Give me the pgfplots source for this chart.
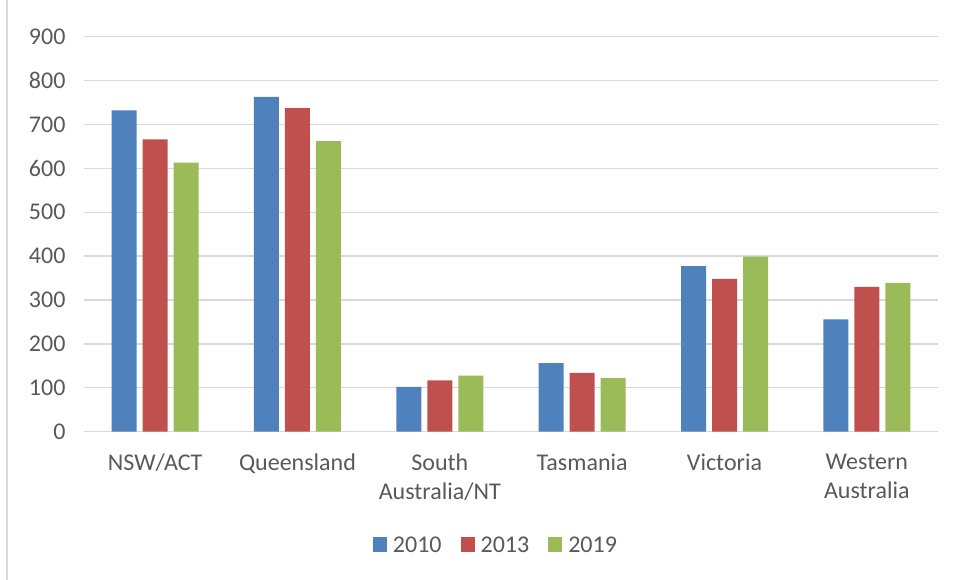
\documentclass[border=0pt]{standalone}
\usepackage{pgfplots}
\pgfplotsset{compat=1.18}
\usepackage{fontspec}
\setmainfont{Carlito}
\definecolor{cblue}{HTML}{4F81BD}
\definecolor{cred}{HTML}{C0504D}
\definecolor{cgreen}{HTML}{9BBB59}
\definecolor{cgrid}{HTML}{D9D9D9}
\definecolor{ctext}{HTML}{595959}
\begin{document}
\begin{tikzpicture}
\useasboundingbox (-84pt,-148.3pt) rectangle (875pt,431.7pt);
\draw[cgrid,line width=1.2pt] (-77pt,-148.3pt) -- (-77pt,431.7pt);
\begin{axis}[
  at={(0pt,0pt)}, anchor=south west,
  scale only axis, width=854pt, height=395pt,
  ybar=6pt, bar width=25pt,
  xmin=-0.5, xmax=5.5, ymin=0, ymax=900,
  ytick={0,100,...,900},
  xtick={0,1,2,3,4,5},
  xticklabels={NSW/ACT,Queensland,{South\\Australia/NT},Tasmania,Victoria,{Western\\Australia}},
  axis line style={draw=none},
  major tick length=0pt,
  ymajorgrids, grid style={cgrid,line width=1.3pt},
  /pgf/number format/assume math mode=true,
  tick label style={font=\fontsize{24}{29}\selectfont, text=ctext},
  yticklabel style={xshift=-15pt},
  xticklabel style={align=center, yshift=-19pt},
  every axis plot post/.append style={legend image code/.code={\fill[##1,draw=none] (0pt,-7.5pt) rectangle (14pt,7.5pt);}},
  legend style={draw=none, legend columns=-1, at={(axis description cs:0.4824,-0.2868)}, anchor=center,
    font=\fontsize{24}{29}\selectfont, text=ctext,
    /tikz/every odd column/.append style={column sep=4pt},
    /tikz/every even column/.append style={column sep=17pt}},
]
\addplot[fill=cblue,draw=none] coordinates {(0,732) (1,763) (2,102) (3,156) (4,377) (5,256)};
\addplot[fill=cred,draw=none] coordinates {(0,666) (1,737) (2,117) (3,134) (4,348) (5,330)};
\addplot[fill=cgreen,draw=none] coordinates {(0,613) (1,662) (2,128) (3,122) (4,399) (5,339)};
\legend{2010,2013,2019}
\end{axis}
\end{tikzpicture}
\end{document}
